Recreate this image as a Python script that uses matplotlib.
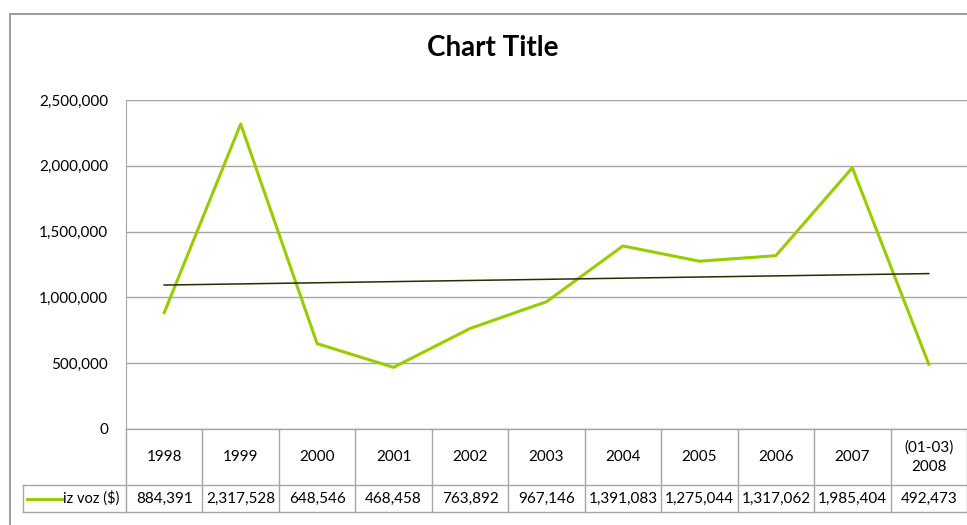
import numpy as np
import matplotlib
matplotlib.use('Agg')
import matplotlib.pyplot as plt
from matplotlib.transforms import blended_transform_factory
from matplotlib.patches import Rectangle

plt.rcParams['font.family'] = ['Lato', 'DejaVu Sans']

# data
years = ['1998', '1999', '2000', '2001', '2002', '2003', '2004', '2005',
         '2006', '2007', '(01-03)\n2008']
izvoz = [884391, 2317528, 648546, 468458, 763892, 967146, 1391083,
         1275044, 1317062, 1985404, 492473]
yticks = [0, 500000, 1000000, 1500000, 2000000, 2500000]
series_name = 'iz voz ($)'

W, H = 967, 525
fig = plt.figure(figsize=(W / 100, H / 100), dpi=100)

def fx(px):
    return px / W

def fy(py):
    return 1 - py / H

# outer chart border (cut at right/bottom like the screenshot)
fig.patches.append(Rectangle((fx(10), fy(530)), fx(1000), fy(14) - fy(530),
                             transform=fig.transFigure, fill=False,
                             edgecolor='#8c8c8c', linewidth=1.2))

left, right, top, bottom = 126, 967, 100, 429
ax = fig.add_axes([fx(left), fy(bottom), fx(right - left), fy(top) - fy(bottom)])

x = np.arange(len(years))
ax.set_xlim(-0.5, len(years) - 0.5)
ax.set_ylim(0, 2500000)
ax.set_yticks(yticks)
ax.set_yticklabels([f'{v:,}' for v in yticks], fontsize=11)
ax.tick_params(axis='y', length=0, pad=13)
ax.set_xticks([])
ax.grid(axis='y', color='#a6a6a6', linewidth=1)
ax.set_axisbelow(True)
for s in ['top', 'right', 'bottom']:
    ax.spines[s].set_visible(False)
ax.spines['left'].set_color('#a6a6a6')

ax.plot(x, izvoz, color='#99cc00', linewidth=2.2, zorder=3)

# linear trendline
k, b = np.polyfit(x, izvoz, 1)
ax.plot(x, k * x + b, color='#2b2b00', linewidth=1.1, zorder=4)

fig.text(fx(493), fy(48), 'Chart Title', fontsize=20, fontweight='bold',
         ha='center', va='center')

# data table below the axis
tr = blended_transform_factory(ax.transData, fig.transFigure)
gcol = '#a6a6a6'
y0, y1, y2 = fy(429), fy(485), fy(512)
xl = -0.5 - (left - 23) / ((right - left) / len(years))
edges = np.arange(len(years) + 1) - 0.5
lines_kw = dict(color=gcol, linewidth=1, transform=tr, clip_on=False)
ax.plot([edges[0], edges[-1]], [y0, y0], **lines_kw)
ax.plot([xl, edges[-1]], [y1, y1], **lines_kw)
ax.plot([xl, edges[-1]], [y2, y2], **lines_kw)
for e in edges:
    ax.plot([e, e], [y0, y2], **lines_kw)
ax.plot([xl, xl], [y1, y2], **lines_kw)

for i, yr in enumerate(years):
    ax.text(i, (y0 + y1) / 2, yr, transform=tr, ha='center', va='center',
            fontsize=11, linespacing=1.5)
    ax.text(i, (y1 + y2) / 2, f'{izvoz[i]:,}', transform=tr, ha='center',
            va='center', fontsize=11)

# legend key in the table
cw = (right - left) / len(years)
kx0 = xl + 4 / cw
kx1 = xl + 39 / cw
ax.plot([kx0, kx1], [(y1 + y2) / 2] * 2, color='#99cc00', linewidth=2.2,
        transform=tr, clip_on=False)
ax.text(-0.5 - 7 / cw, (y1 + y2) / 2, series_name, transform=tr, ha='right',
        va='center', fontsize=10.5)

fig.savefig('out.png', dpi=100)
